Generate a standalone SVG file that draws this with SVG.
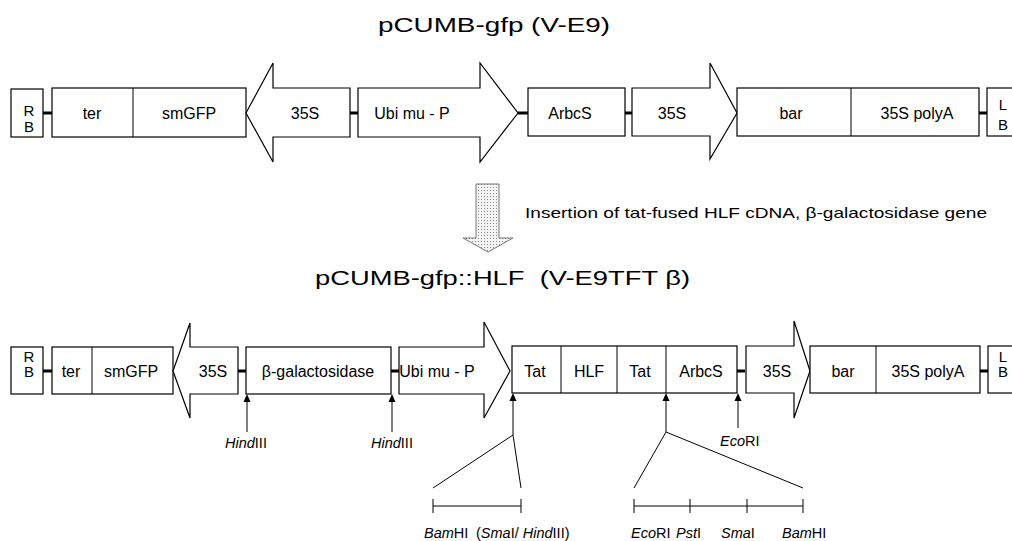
<svg xmlns="http://www.w3.org/2000/svg" width="1012" height="541" viewBox="0 0 1012 541">
<defs>
<pattern id="dots" width="3" height="3" patternUnits="userSpaceOnUse">
<rect width="3" height="3" fill="#f4f4f4"/>
<rect x="1" y="1" width="1" height="1" fill="#8a8a8a"/>
</pattern>
<path id="tri" d="M0,0 L-3.5,8 L3.5,8 Z" fill="#000"/>
</defs>
<style>
.box{fill:#fff;stroke:#000;stroke-width:1.2}
.div{stroke:#000;stroke-width:1}
.lk{stroke:#000;stroke-width:3}
.ln{stroke:#000;stroke-width:1;fill:none}
.lab{font-family:"Liberation Sans",Arial,sans-serif;font-size:16px;fill:#000;text-anchor:middle}
.rb{font-family:"Liberation Sans",Arial,sans-serif;font-size:15px;fill:#000;text-anchor:middle}
.title{font-family:"Liberation Sans",Arial,sans-serif;font-size:21px;fill:#000}
.site{font-family:"Liberation Sans",Arial,sans-serif;font-size:14.5px;fill:#000}
.it{font-style:italic}
</style>
<rect width="1012" height="541" fill="#fff"/>

<text class="title" x="378" y="32" textLength="232" lengthAdjust="spacingAndGlyphs">pCUMB-gfp (V-E9)</text>

<!-- Top row -->
<g id="top-links">
<line class="lk" x1="43" y1="113" x2="52" y2="113"/>
<line class="lk" x1="350" y1="113" x2="358" y2="113"/>
<line class="lk" x1="518" y1="113" x2="528" y2="113"/>
<line class="lk" x1="625" y1="113" x2="632" y2="113"/>
<line class="lk" x1="979" y1="113" x2="987" y2="113"/>
</g>
<g id="t-RB"><rect class="box" x="11" y="89" width="32" height="48"/><text class="rb" x="29" y="116">R</text><text class="rb" x="29" y="132">B</text></g>
<g id="t-ter-smGFP"><rect class="box" x="52" y="88" width="194" height="49"/><line class="div" x1="133" y1="88" x2="133" y2="137"/><text class="lab" x="92" y="119">ter</text><text class="lab" x="189" y="119">smGFP</text></g>
<g id="t-35S-left"><path class="box" d="M350,88 L273,88 L273,63 L246,113 L273,162 L273,137 L350,137 Z"/><text class="lab" x="305" y="119">35S</text></g>
<g id="t-ubi"><path class="box" d="M358,88 L480,88 L480,63 L518,113 L480,162 L480,137 L358,137 Z"/><text class="lab" x="412" y="119">Ubi mu - P</text></g>
<g id="t-ArbcS"><rect class="box" x="528" y="88" width="97" height="48"/><text class="lab" x="570" y="119">ArbcS</text></g>
<g id="t-35S-right"><path class="box" d="M632,88 L710,88 L710,63 L737,113 L710,159 L710,136 L632,136 Z"/><text class="lab" x="672" y="119">35S</text></g>
<g id="t-bar-polyA"><rect class="box" x="737" y="88" width="242" height="48"/><line class="div" x1="851" y1="88" x2="851" y2="136"/><text class="lab" x="791" y="119">bar</text><text class="lab" x="917" y="119">35S polyA</text></g>
<g id="t-LB"><rect class="box" x="987" y="88" width="34" height="48"/><text class="rb" x="1003" y="110">L</text><text class="rb" x="1003" y="130">B</text></g>

<!-- Insertion arrow -->
<g id="insert-arrow"><path d="M476,184 L499,184 L499,238 L513,238 L488,252 L463,238 L476,238 Z" fill="url(#dots)" stroke="#777" stroke-width="1"/></g>
<text class="site" x="525" y="218" textLength="462" lengthAdjust="spacingAndGlyphs">Insertion of tat-fused HLF cDNA, β-galactosidase gene</text>

<text class="title" x="315" y="285" textLength="375" lengthAdjust="spacingAndGlyphs" xml:space="preserve">pCUMB-gfp::HLF  (V-E9TFT β)</text>

<!-- Bottom row -->
<g id="b-links">
<line class="lk" x1="43" y1="371" x2="52" y2="371"/>
<line class="lk" x1="238" y1="371" x2="246" y2="371"/>
<line class="lk" x1="391" y1="371" x2="399" y2="371"/>
<line class="lk" x1="737" y1="371" x2="745" y2="371"/>
<line class="lk" x1="980" y1="371" x2="988" y2="371"/>
</g>
<g id="b-RB"><rect class="box" x="11" y="347" width="32" height="47"/><text class="rb" x="29" y="362">R</text><text class="rb" x="29" y="377">B</text></g>
<g id="b-ter-smGFP"><rect class="box" x="52" y="347" width="121" height="47"/><line class="div" x1="92" y1="347" x2="92" y2="394"/><text class="lab" x="71" y="377">ter</text><text class="lab" x="131" y="377">smGFP</text></g>
<g id="b-35S-left"><path class="box" d="M238,347 L190,347 L190,323 L173,371 L190,418 L190,394 L238,394 Z"/><text class="lab" x="213" y="377">35S</text></g>
<g id="b-bgal"><rect class="box" x="246" y="347" width="145" height="47"/><text class="lab" x="318" y="377">β-galactosidase</text></g>
<g id="b-ubi"><path class="box" d="M399,347 L484,347 L484,322 L510,371 L484,418 L484,394 L399,394 Z"/><text class="lab" x="437" y="377">Ubi mu - P</text></g>
<g id="b-tat-hlf-arbcs"><rect class="box" x="512" y="346" width="225" height="47"/><line class="div" x1="561" y1="346" x2="561" y2="393"/><line class="div" x1="617" y1="346" x2="617" y2="393"/><line class="div" x1="666" y1="346" x2="666" y2="393"/><text class="lab" x="535" y="377">Tat</text><text class="lab" x="589" y="377">HLF</text><text class="lab" x="640" y="377">Tat</text><text class="lab" x="701" y="377">ArbcS</text></g>
<g id="b-35S-right"><path class="box" d="M746,346 L794,346 L794,321 L810,371 L794,418 L794,393 L746,393 Z"/><text class="lab" x="777" y="377">35S</text></g>
<g id="b-bar-polyA"><rect class="box" x="810" y="346" width="170" height="47"/><line class="div" x1="876" y1="346" x2="876" y2="393"/><text class="lab" x="843" y="377">bar</text><text class="lab" x="928" y="377">35S polyA</text></g>
<g id="b-LB"><rect class="box" x="988" y="346" width="34" height="47"/><text class="rb" x="1003" y="362">L</text><text class="rb" x="1003" y="377">B</text></g>

<!-- Restriction sites -->
<g id="connectors">
<line class="ln" x1="247" y1="432" x2="247" y2="400"/><use href="#tri" x="247" y="394"/>
<line class="ln" x1="392" y1="432" x2="392" y2="400"/><use href="#tri" x="392" y="394"/>
<line class="ln" x1="513" y1="435" x2="513" y2="400"/><use href="#tri" x="513" y="393"/>
<line class="ln" x1="666" y1="432" x2="666" y2="400"/><use href="#tri" x="666" y="393"/>
<line class="ln" x1="738" y1="428" x2="738" y2="400"/><use href="#tri" x="738" y="393"/>
<polyline class="ln" points="433,488 513,435 521,488"/>
<polyline class="ln" points="634,488 666,432 803,488"/>
<line class="ln" x1="433" y1="506" x2="521" y2="506"/>
<line class="ln" x1="433" y1="499" x2="433" y2="513"/>
<line class="ln" x1="521" y1="499" x2="521" y2="513"/>
<line class="ln" x1="634" y1="506" x2="803" y2="506"/>
<line class="ln" x1="634" y1="499" x2="634" y2="513"/>
<line class="ln" x1="690" y1="499" x2="690" y2="513"/>
<line class="ln" x1="747" y1="499" x2="747" y2="513"/>
<line class="ln" x1="803" y1="499" x2="803" y2="513"/>
</g>

<text class="site" x="225" y="448"><tspan class="it">Hind</tspan>III</text>
<text class="site" x="371" y="448"><tspan class="it">Hind</tspan>III</text>
<text class="site" x="720" y="446"><tspan class="it">Eco</tspan>RI</text>
<text class="site" x="424" y="538"><tspan class="it">Bam</tspan>HI</text>
<text class="site" x="476" y="538" xml:space="preserve">(<tspan class="it">Sma</tspan>I/ <tspan class="it">Hind</tspan>III)</text>
<text class="site" x="631" y="538"><tspan class="it">Eco</tspan>RI</text>
<text class="site" x="676" y="538"><tspan class="it">Pst</tspan>I</text>
<text class="site" x="721" y="538"><tspan class="it">Sma</tspan>I</text>
<text class="site" x="782" y="538"><tspan class="it">Bam</tspan>HI</text>
</svg>
